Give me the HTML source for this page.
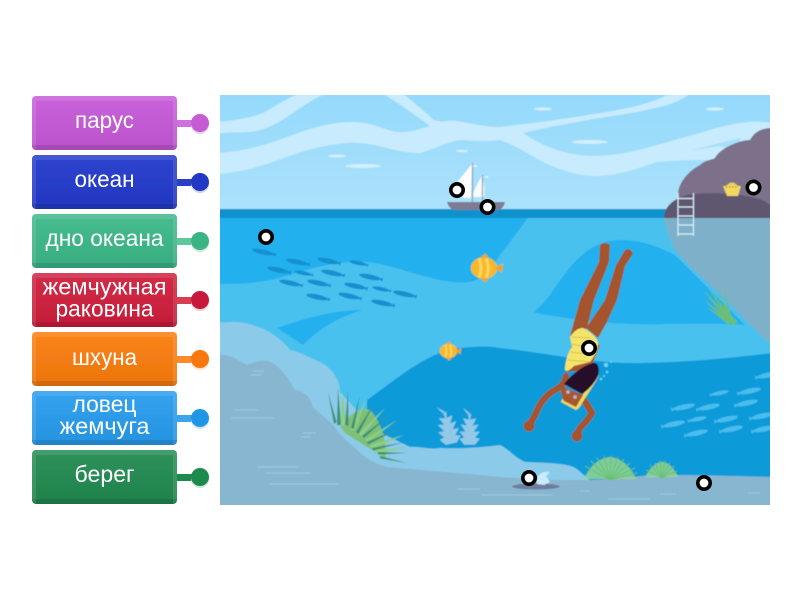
<!DOCTYPE html>
<html lang="ru"><head><meta charset="utf-8"><title>Океан</title>
<style>html,body{margin:0;padding:0;background:#fff}svg{display:block}
text{font-family:"Liberation Sans","DejaVu Sans",sans-serif;font-size:23px;fill:#fff;text-anchor:middle}</style></head>
<body>
<svg xmlns="http://www.w3.org/2000/svg" width="800" height="600" viewBox="0 0 800 600">
<defs>
<linearGradient id="sky" x1="0" y1="0" x2="0" y2="1"><stop offset="0" stop-color="#94d9fc"/><stop offset="1" stop-color="#ace2fb"/></linearGradient>
<linearGradient id="ov" x1="0" y1="0" x2="0" y2="1"><stop offset="0" stop-color="#fff" stop-opacity=".06"/><stop offset="1" stop-color="#000" stop-opacity=".06"/></linearGradient>
<filter id="soft" x="0" y="0" width="1" height="1"><feGaussianBlur stdDeviation=".55"/></filter>
<filter id="soft2" x="-.1" y="-.1" width="1.2" height="1.2"><feGaussianBlur stdDeviation=".3"/></filter>
<clipPath id="c"><rect x="220" y="95" width="550" height="410"/></clipPath>
<g id="fish"><ellipse cx="0" cy="0" rx="11" ry="2.500"/><path d="M9 0l4-2v4z"/></g>
<g id="coral" fill="#93c9e8"><path d="M0-17l4 6 3-1-1 5 5-1-3 6 5-1-4 6 5 0-4 5 4 1-4 5h-9l-4-5 4-1-4-5 5 0-4-6 5 1-3-6 5 1-1-5 3 1z"/></g>
<g id="bigfish"><ellipse cx="0" cy="0" rx="11" ry="9" fill="#f8b82e"/><path d="M9 0l7-4-1 8z" fill="#f2a31f"/><path d="M-4-8q3 8 0 16M2-8q3 8 0 16" stroke="#fbd65c" stroke-width="2.500" fill="none"/><path d="M-3-9l4-3 3 3zM-3 9l4 3 3-3z" fill="#f2a31f"/></g>
<g id="mk"><circle r="6.200" fill="#fff" stroke="#000" stroke-width="3.600"/></g>
<g id="ovl">
<rect width="145" height="54" rx="4" fill="url(#ov)"/>
<path d="M4 0H141Q145 0 145 4V54H141V5H4V54Q0 54 0 50V4Q0 0 4 0Z" fill="#fff" opacity=".11"/>
<path d="M0 49H145V50Q145 54 141 54H4Q0 54 0 50Z" fill="#000" opacity=".11"/>
</g>
</defs>

<!-- Buttons -->
<g filter="url(#soft2)">
<rect x="177" y="120" width="23" height="7" fill="#d070dc"/><circle cx="200" cy="125" r="9" fill="#e9d2ee"/><circle cx="200" cy="123" r="9" fill="#c55bd3"/>
<rect x="32" y="96" width="145" height="54" rx="4" fill="#c658d8"/><use href="#ovl" x="32" y="96"/>

<rect x="177" y="179" width="23" height="7" fill="#2a40c8"/><circle cx="200" cy="184" r="9" fill="#ccd2ee"/><circle cx="200" cy="182" r="9" fill="#2237c4"/>
<rect x="32" y="155" width="145" height="54" rx="4" fill="#2239cc"/><use href="#ovl" x="32" y="155"/>

<rect x="177" y="238" width="23" height="7" fill="#5fc79b"/><circle cx="200" cy="243" r="9" fill="#cfeadf"/><circle cx="200" cy="241" r="9" fill="#37b583"/>
<rect x="32" y="214" width="145" height="54" rx="4" fill="#3bb888"/><use href="#ovl" x="32" y="214"/>

<rect x="177" y="297" width="23" height="7" fill="#d83c52"/><circle cx="200" cy="302" r="9" fill="#f0cfd5"/><circle cx="200" cy="300" r="9" fill="#c9193a"/>
<rect x="32" y="273" width="145" height="54" rx="4" fill="#cf1e3c"/><use href="#ovl" x="32" y="273"/>

<rect x="177" y="356" width="23" height="7" fill="#fb8a2a"/><circle cx="200" cy="361" r="9" fill="#fbe0c8"/><circle cx="200" cy="359" r="9" fill="#f97708"/>
<rect x="32" y="332" width="145" height="54" rx="4" fill="#fb7c0c"/><use href="#ovl" x="32" y="332"/>

<rect x="177" y="415" width="23" height="7" fill="#3ba4ea"/><circle cx="200" cy="420" r="9" fill="#cfe7f8"/><circle cx="200" cy="418" r="9" fill="#2196e6"/>
<rect x="32" y="391" width="145" height="54" rx="4" fill="#279cee"/><use href="#ovl" x="32" y="391"/>

<rect x="177" y="474" width="23" height="7" fill="#1f8a50"/><circle cx="200" cy="479" r="9" fill="#cde5d8"/><circle cx="200" cy="477" r="9" fill="#1d8a4e"/>
<rect x="32" y="450" width="145" height="54" rx="4" fill="#218a50"/><use href="#ovl" x="32" y="450"/>
</g>
<text x="104.500" y="128" textLength="59" lengthAdjust="spacingAndGlyphs">парус</text>
<text x="104.500" y="187" textLength="60" lengthAdjust="spacingAndGlyphs">океан</text>
<text x="104.500" y="246" textLength="118" lengthAdjust="spacingAndGlyphs">дно океана</text>
<text x="104.500" y="294.500" textLength="124" lengthAdjust="spacingAndGlyphs">жемчужная</text>
<text x="104.500" y="316.500" textLength="98" lengthAdjust="spacingAndGlyphs">раковина</text>
<text x="104.500" y="365" textLength="65" lengthAdjust="spacingAndGlyphs">шхуна</text>
<text x="104.500" y="412" textLength="64" lengthAdjust="spacingAndGlyphs">ловец</text>
<text x="104.500" y="434" textLength="90" lengthAdjust="spacingAndGlyphs">жемчуга</text>
<text x="104.500" y="482" textLength="60" lengthAdjust="spacingAndGlyphs">берег</text>

<!-- Scene -->
<g clip-path="url(#c)"><g filter="url(#soft)">
<rect x="218" y="93" width="554" height="118" fill="url(#sky)"/>
<!-- sky ribbons -->
<g fill="#c8ebfd">
<path d="M218 122C230 121 250 118 263 113C275 106 288 98 300 93H327C310 100 298 110 287 117C275 125 262 131 250 132L218 133Z"/>
<path d="M382 93H402C415 103 425 112 434 120L450 123L433 128C415 115 398 103 382 93Z"/>
<path d="M218 153C245 151 265 145 287 137C310 128 332 122 353 122C372 122 385 130 397 132C412 133 422 128 433 125C442 121 450 120 457 121C470 123 485 127 500 127C535 123 570 118 600 113C625 109 648 104 663 97L670 93H690L688 95C680 101 672 104 660 107C640 112 620 115 600 118C575 122 545 128 523 133C533 140 545 146 557 150C570 154 582 156 593 156C615 156 637 151 657 145C672 141 688 136 700 133C715 128 730 124 747 122C755 121 765 122 772 123V170H727L692 150C700 155 712 158 713 160C695 160 675 160 657 162C635 170 615 176 593 176C575 175 560 170 543 162C530 155 515 145 500 140C488 142 473 141 460 140C445 143 432 150 420 153C408 153 398 151 387 148C375 145 360 142 347 143C325 145 305 150 287 157C265 165 245 172 218 174Z"/>
</g>
<path d="M692 150L740 138L740 152L720 146Z" fill="#a4dffb"/>
<g fill="#d2eefd">
<ellipse cx="337" cy="156" rx="9" ry="1.500"/><ellipse cx="363" cy="166" rx="18" ry="2"/><ellipse cx="462" cy="151" rx="6" ry="1.300"/><ellipse cx="543" cy="109" rx="9" ry="1.600"/><ellipse cx="715" cy="109" rx="9" ry="1.600"/><ellipse cx="590" cy="142" rx="18" ry="2"/>
</g>
<!-- horizon and water -->
<rect x="218" y="209" width="554" height="9" fill="#0f92cd"/>
<rect x="218" y="218" width="554" height="292" fill="#21b0ef"/>
<!-- lighter water -->
<path d="M218 284C240 284 260 284 290 275C320 265 350 259 375 263C410 270 440 285 470 282C482 280 492 268 500 255L528 218H772V510H218Z" fill="#4ac1ef"/>
<!-- darker blob -->
<path d="M533 312C545 305 556 285 570 267C585 250 600 240 620 240C640 240 655 245 675 255L745 325C720 323 695 324 667 324C650 325 630 324 613 323C595 322 580 320 567 318C555 316 543 315 533 312Z" fill="#21b0ef"/>
<path d="M277 328C305 318 335 310 363 310C335 318 318 330 303 345Z" fill="#21b0ef"/>
<!-- deep water -->
<path d="M367 400C395 380 430 350 460 348C480 346 490 346 500 348C540 352 590 363 630 363C680 363 730 358 772 353V510H367Z" fill="#0f9ad9"/>
<!-- rock underwater -->
<path d="M664 218C668 235 672 248 682 258C692 270 705 280 727 300C740 315 755 330 772 345V218Z" fill="#7eb0c9"/>
<!-- rock -->
<path d="M678 195C678 182 690 170 700 165C705 160 712 160 715 158C720 148 740 140 750 140C755 130 765 128 772 128V218H678Z" fill="#7b708a"/>
<path d="M664 218C664 208 672 199 687 195C700 193 725 192 745 196C760 198 772 203 772 210V218Z" fill="#5e5670"/>
<!-- ladder -->
<g stroke="#d8eef8" stroke-width="1.200" fill="none"><path d="M678 193V236M693.500 193V236M678 198.500H693.500M678 207H693.500M678 216H693.500M678 225H693.500M678 234H693.500"/></g>
<!-- basket -->
<path d="M723 186H741L738 196H727Z" fill="#f2d85f"/><path d="M726 186Q732 179 738 186Z" fill="#ecd060"/><path d="M726 187h12" stroke="#8a7a30" stroke-width="1" stroke-dasharray="1.500 1.500"/>
<!-- top fish school -->
<g fill="#1590cf">
<use href="#fish" transform="translate(263 252) rotate(12)"/><use href="#fish" transform="translate(297 262) rotate(12)"/><use href="#fish" transform="translate(328 261) rotate(12)"/><use href="#fish" transform="translate(358 263) rotate(12) scale(.8)"/><use href="#fish" transform="translate(278 270) rotate(12)"/><use href="#fish" transform="translate(303 273) rotate(12) scale(.8)"/><use href="#fish" transform="translate(332 273) rotate(12)"/><use href="#fish" transform="translate(370 277) rotate(12)"/><use href="#fish" transform="translate(290 283) rotate(12)"/><use href="#fish" transform="translate(318 283) rotate(12)"/><use href="#fish" transform="translate(355 286) rotate(12)"/><use href="#fish" transform="translate(381 289) rotate(12) scale(.8)"/><use href="#fish" transform="translate(404 294) rotate(12)"/><use href="#fish" transform="translate(317 297) rotate(12)"/><use href="#fish" transform="translate(349 296) rotate(12)"/><use href="#fish" transform="translate(382 303) rotate(12)"/>
</g>
<!-- right fish school -->
<g fill="#4abdee">
<use href="#fish" transform="translate(720 393) rotate(-12) scale(-.8 .8)"/><use href="#fish" transform="translate(750 391) rotate(-12) scale(-1 1)"/><use href="#fish" transform="translate(768 375) rotate(-12) scale(-1 1)"/><use href="#fish" transform="translate(747 403) rotate(-12) scale(-1 1)"/><use href="#fish" transform="translate(709 407) rotate(-12) scale(-1 1)"/><use href="#fish" transform="translate(684 407) rotate(-12) scale(-1 1)"/><use href="#fish" transform="translate(698 419) rotate(-12) scale(-.8 .8)"/><use href="#fish" transform="translate(727 419) rotate(-12) scale(-1 1)"/><use href="#fish" transform="translate(762 416) rotate(-12) scale(-1 1)"/><use href="#fish" transform="translate(674 424) rotate(-12) scale(-1 1)"/><use href="#fish" transform="translate(697 433) rotate(-12) scale(-1 1)"/><use href="#fish" transform="translate(732 429) rotate(-12) scale(-1 1)"/><use href="#fish" transform="translate(764 429) rotate(-12) scale(-1 1)"/>
</g>
<!-- corals -->
<use href="#coral" transform="translate(441 428) rotate(-12) scale(1.250)"/>
<use href="#coral" transform="translate(463 428) scale(1.200)"/>
<!-- left hill light -->
<path d="M218 323C235 321 245 322 255 326C270 330 282 340 290 350C300 352 310 358 320 362C332 368 340 380 340 392L375 430L410 447C420 446 430 450 440 448C465 449 485 447 500 445C510 450 515 458 525 462C540 463 570 462 578 470L592 482V510H218Z" fill="#8bcbe9"/>
<!-- left hill gray / seabed -->
<path d="M218 355C228 353 238 360 247 365C255 362 265 358 272 363C282 368 288 378 295 390C305 392 310 396 313 407C322 415 328 420 333 425C340 435 348 442 355 448C365 458 375 464 387 467C420 470 460 473 500 477C530 479 565 481 590 480C620 479 640 475 667 475C700 475 735 476 772 477V510H218Z" fill="#88b6d0"/>
<!-- seabed streaks -->
<g stroke="#a6d2e8" stroke-width="1" fill="none" opacity=".75">
<path d="M235 410H258M231 418H275M257 467H299M266 473H311M269 484H339M457 489H480M482 495H552M608 499H650M660 494H676M748 493H760M580 491H590"/>
<path d="M253 371H264M251 375H261M303 433H316M301 437H311"/>
</g>
<!-- large grass -->
<path d="M341 427C350 412 365 405 372 412C382 425 388 445 385 458L372 450L345 433Z" fill="#7fc078"/>
<g fill="#8ccf86">
<path d="M343 392L340 426L346 426Z"/><path d="M367 398L350 430L355 430Z"/><path d="M385 408L358 434L362 436Z"/><path d="M397 420L365 440L368 442Z"/><path d="M404 435L370 445L372 449Z"/><path d="M409 447L374 450L375 454Z"/>
</g>
<g fill="#3f9174">
<path d="M328 392L334 424L336.500 422Z"/><path d="M338 387L337 425L341 425Z"/><path d="M348 390L345 425L348.500 426Z"/><path d="M360 395L351 428L354 429Z"/><path d="M375 402L356 432L358.500 434Z"/><path d="M392 413L362 436L364 438Z"/><path d="M400 428L367 442L368 444.500Z"/><path d="M405 442L372 448L373 450.500Z"/><path d="M408 453L378 452L378 454.500Z"/><path d="M407 463L380 456L380 458.500Z"/>
</g>
<!-- upper right grass -->
<g fill="#6cbf78">
<path d="M703 290L728 322L731 318Z"/><path d="M708 287L728 320L732 318Z"/><path d="M716 285L729 320L732 319Z"/><path d="M702 298L728 323L730 320Z"/><path d="M724 287L729 320L732 320Z"/><path d="M707 307L729 325L731 321Z"/><path d="M731 322L727 312L738 322L732 326Z"/>
</g>
<!-- small grass tufts -->
<path d="M584 479C590 465 600 458 610 457C620 458 630 465 636 479Z" fill="#9ad88a" opacity=".8"/>
<path d="M645 477C650 468 656 462 662 462C668 462 674 468 678 477Z" fill="#9ad88a" opacity=".8"/>
<g stroke="#6ac06c" stroke-width=".9" fill="none">
<path d="M610 480L585 466M610 480L591 461M610 480L597 458M610 480L604 456M610 480L611 456M610 480L618 457M610 480L624 459M610 480L630 463M610 480L635 468M610 480L637 473"/>
<path d="M662 478L646 470M662 478L650 465M662 478L655 463M662 478L660 461M662 478L665 461M662 478L670 463M662 478L674 466M662 478L677 471"/>
</g>
<!-- shell -->
<ellipse cx="536" cy="486.500" rx="24" ry="3" fill="#6d7c9c"/>
<path d="M537 484C536 476 540 471 550 472L546 476L550 482L544 485Z" fill="#c9ecfd"/>
<!-- yellow fish -->
<use href="#bigfish" transform="translate(484 268) scale(1.200)"/>
<use href="#bigfish" transform="translate(448.500 351) scale(.8)"/>
<!-- ship -->
<path d="M447 202H505C504 206 502 210 497 210H455C451 210 448 206 447 202Z" fill="#7d7b95"/>
<path d="M472 164C466 172 456 182 451 192C454 196 462 198 471 198Z" fill="#fff"/>
<path d="M482 176C478 182 474 190 472 197H484C485 190 484 182 482 176Z" fill="#f6fcff"/>
<path d="M472.500 163V202M482.500 175V202" stroke="#98a3b6" stroke-width="1.300"/>
<path d="M472 166l5-1v2zM483 177l5-1v2z" fill="#f0f8ff"/>
<!-- diver -->
<g fill="#a4552e">
<path d="M600 245Q605 241 610 245L609 262L594 300L587 328L570 336L580 300L599 262Z"/>
<path d="M625 250Q631 247 633 254L625 266L617 300L607 322L598 338L586 328L605 300L616 265Z"/>
<path d="M572 343L600 345L590 370L567 372Z"/>
</g>
<g fill="none" stroke="#a4552e" stroke-width="6.500" stroke-linecap="round" stroke-linejoin="round">
<path d="M566 376Q565 385 555 390Q542 397 535 415L530 424"/>
<path d="M584 400L592 413Q588 420 580 428L577 434"/>
</g>
<circle cx="529" cy="426" r="5.500" fill="#a4552e"/><circle cx="577" cy="436" r="5.500" fill="#a4552e"/>
<path d="M570 337C574 331 578 328 583 328C591 332 599 339 598 345C597 353 593 358 590 362L574 366C570 370 567 372 565 370C565 362 568 352 572 347Z" fill="#f5e46c"/>
<path d="M572 337L590 338M571 344L597 349M570 352L595 355M568 360L590 362" stroke="#c9b63c" stroke-width=".8" fill="none"/>
<path d="M599 375L596 381L579 408L576 410L561 402L562 399L576 405L592 381Z" fill="#f0da5c"/>
<path d="M561 386L583 395L576 407L564 401Q560 394 561 386Z" fill="#a5592f"/>
<path d="M564 384C572 374 584 365 593 363C598 362 600 368 598 376C594 384 588 390 582 394Z" fill="#260d2c"/>
<g fill="#b9b5dc"><circle cx="568" cy="392" r="1.800"/><circle cx="575" cy="397" r="1.800"/></g>
<g fill="#6fd2f7"><circle cx="606" cy="365" r="2.200"/><circle cx="607" cy="372" r="1.300"/><circle cx="611" cy="362" r="1"/><circle cx="601" cy="379" r="1.300"/><circle cx="604" cy="376" r="1"/></g>
</g></g>

<!-- markers -->
<use href="#mk" x="457" y="190"/>
<use href="#mk" x="487.500" y="207"/>
<use href="#mk" x="266" y="237"/>
<use href="#mk" x="753.500" y="187.500"/>
<use href="#mk" x="589" y="348"/>
<use href="#mk" x="529" y="478"/>
<use href="#mk" x="704" y="483"/>
</svg>
</body></html>
